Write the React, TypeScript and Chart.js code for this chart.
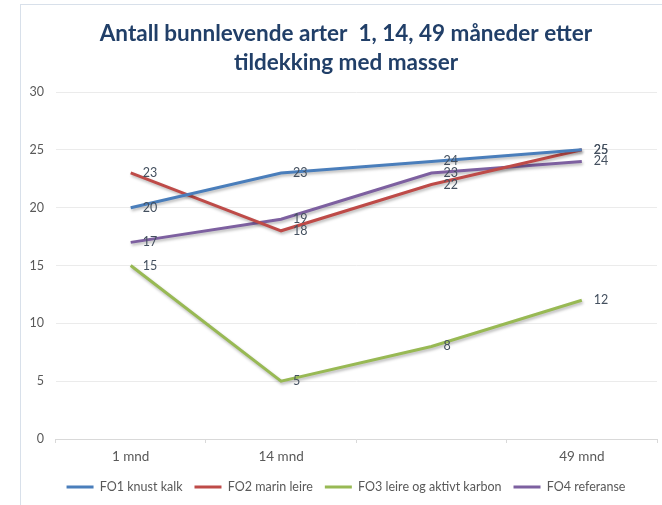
import React, { useEffect, useRef } from "react";
import { Chart, registerables } from "chart.js";
Chart.register(...registerables);

const categories = ["1 mnd", "14 mnd", "", "49 mnd"];
const seriesNames = ["FO1 knust kalk", "FO2 marin leire", "FO3 leire og aktivt karbon", "FO4 referanse"];
const fo1 = [20, 23, 24, 25];
const fo2 = [23, 18, 22, 25];
const fo3 = [15, 5, 8, 12];
const fo4 = [17, 19, 23, 24];
const seriesColors = ["#4a7ebb", "#be4b48", "#98b954", "#7d60a0"];
const titleLines = ["Antall bunnlevende arter  1, 14, 49 måneder etter", "tildekking med masser"];
const yMin = 0;
const yMax = 30;
const yStep = 5;

const FONT = "Lato";

export default function App() {
  const ref = useRef<HTMLCanvasElement>(null);

  useEffect(() => {
    if (!ref.current) return;
    const datasets = [fo1, fo2, fo3, fo4].map((d, i) => ({
      label: seriesNames[i],
      data: d,
      borderColor: seriesColors[i],
      backgroundColor: seriesColors[i],
      borderWidth: 3,
      pointRadius: 0,
      pointHoverRadius: 0,
      tension: 0,
      fill: false,
      yAxisID: "y",
    }));

    const shadowPlugin = {
      id: "lineShadow",
      beforeDatasetDraw(chart: any) {
        const c = chart.ctx;
        c.save();
        c.shadowColor = "rgba(0,0,0,0.28)";
        c.shadowBlur = 3;
        c.shadowOffsetX = 1;
        c.shadowOffsetY = 2;
      },
      afterDatasetDraw(chart: any) {
        chart.ctx.restore();
      },
    };

    const labelPlugin = {
      id: "valueLabels",
      afterDatasetsDraw(chart: any) {
        const ctx = chart.ctx;
        ctx.save();
        ctx.font = `12.5px ${FONT}`;
        ctx.fillStyle = "#44505f";
        ctx.textAlign = "left";
        ctx.textBaseline = "middle";
        chart.data.datasets.forEach((ds: any, i: number) => {
          const meta = chart.getDatasetMeta(i);
          meta.data.forEach((pt: any, j: number) => {
            ctx.fillText(String(ds.data[j]), pt.x + 12, pt.y);
          });
        });
        ctx.restore();
      },
    };

    const chart = new Chart(ref.current, {
      type: "line",
      data: { labels: categories, datasets },
      plugins: [shadowPlugin, labelPlugin],
      options: {
        responsive: false,
        animation: false,
        layout: { padding: { left: 0, right: 2, top: 0, bottom: 1.75 } },
        plugins: {
          title: {
            display: true,
            text: titleLines,
            color: "#213f68",
            font: { family: FONT, size: 22.5, weight: "bold", lineHeight: "29px" },
            padding: { top: 14, bottom: 15 },
          },
          legend: {
            position: "bottom",
            labels: {
              boxWidth: 27,
              boxHeight: 3,
              padding: 12,
              color: "#595959",
              font: { family: FONT, size: 12.5 },
              generateLabels: (c: any) => {
                const items = (Chart.defaults as any).plugins.legend.labels.generateLabels(c);
                return items.map((it: any) => ({ ...it, lineWidth: 0 }));
              },
            },
          },
          tooltip: { enabled: false },
        },
        scales: {
          x: {
            offset: true,
            grid: { offset: true, drawOnChartArea: false, drawTicks: true, tickLength: 4, color: "#d9d9d9" },
            border: { color: "#d9d9d9" },
            ticks: { padding: 6, color: "#595959", font: { family: FONT, size: 13.5 }, maxRotation: 0, autoSkip: false },
            afterFit: (s: any) => {
              s.height = 29.75;
            },
          },
          y: {
            position: "left",
            min: yMin,
            max: yMax,
            ticks: { stepSize: yStep, padding: 11.5, color: "#595959", font: { family: FONT, size: 12.5 } },
            grid: { color: "#ebebeb", drawTicks: false },
            border: { display: false },
            afterFit: (s: any) => {
              s.width = 34.5;
            },
          },
          yRightSpace: {
            type: "linear",
            position: "right",
            display: true,
            ticks: { display: false },
            grid: { display: false, drawTicks: false },
            border: { display: false },
            afterFit: (s: any) => {
              s.width = 14;
            },
          },
        },
      },
    } as any);
    return () => chart.destroy();
  }, []);

  return (
    <div style={{ position: "absolute", left: 0, top: 0, width: 662, height: 505, overflow: "hidden", background: "#fff" }}>
      <div
        style={{
          position: "absolute",
          left: 20,
          top: 4,
          width: 652,
          height: 510,
          border: "1px solid #d8e0ea",
          background: "#fff",
        }}
      >
        <canvas ref={ref} width={652} height={500} style={{ display: "block" }} />
      </div>
    </div>
  );
}
